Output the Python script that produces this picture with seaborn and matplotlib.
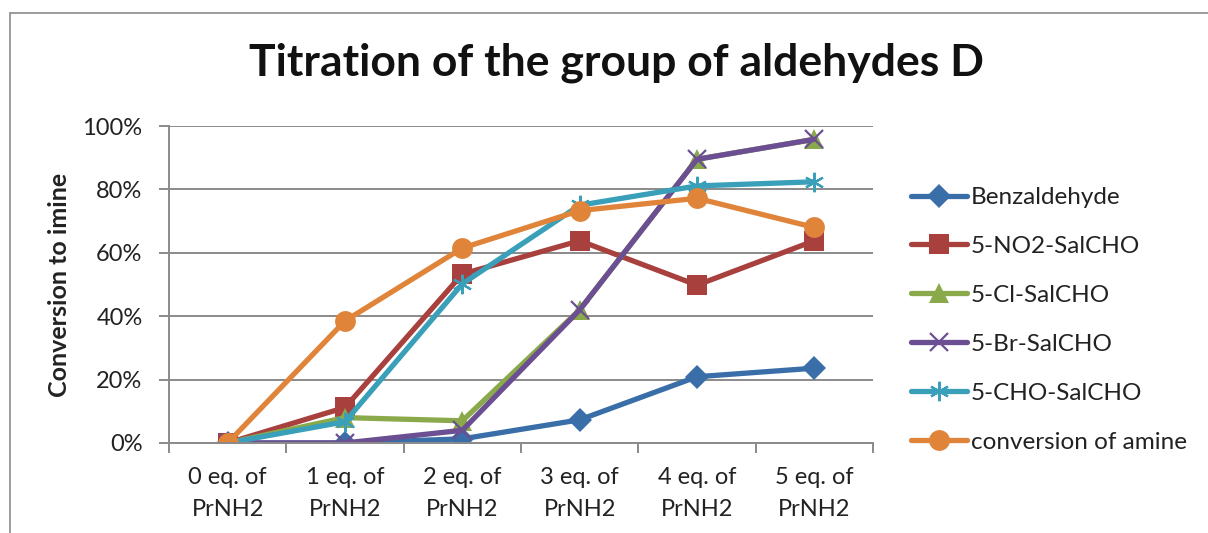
import matplotlib
matplotlib.use("Agg")
import matplotlib.pyplot as plt
import seaborn as sns
import pandas as pd
from matplotlib.patches import Rectangle
from matplotlib.ticker import FixedLocator, FuncFormatter

# Equivalents of propylamine added
categories = [f"{i} eq. of\nPrNH2" for i in range(6)]

# Conversion to imine, in percent
benzaldehyde = [0, 0, 1.3, 7.3, 20.9, 23.6]
no2_salcho = [0, 11.2, 53.3, 63.8, 49.8, 63.8]
cl_salcho = [0, 8.0, 7.0, 42.0, 89.5, 95.8]
br_salcho = [0, 0, 4.0, 42.0, 89.5, 95.8]
cho_salcho = [0, 6.7, 50.2, 75.0, 81.1, 82.4]
amine_conversion = [0, 38.5, 61.5, 73.3, 77.2, 68.0]

series_names = ["Benzaldehyde", "5-NO2-SalCHO", "5-Cl-SalCHO",
                "5-Br-SalCHO", "5-CHO-SalCHO", "conversion of amine"]
series_values = [benzaldehyde, no2_salcho, cl_salcho,
                 br_salcho, cho_salcho, amine_conversion]

colors = ["#3A6EA8", "#A8413E", "#89A94A", "#6B4F92", "#3A9FB8", "#E0843A"]
markers = ["D", "s", "^", "x", (6, 2, 0), "o"]
msizes = [12, 14, 14, 13, 14, 15]
medge = [0, 0, 0, 1.6, 1.6, 0]

rows = []
for name, vals in zip(series_names, series_values):
    for cat, v in zip(categories, vals):
        rows.append({"eq": cat, "conversion": v, "series": name})
df = pd.DataFrame(rows)

sns.set_theme(style="white")
plt.rcParams["font.family"] = ["Lato", "DejaVu Sans"]

fig = plt.figure(figsize=(12.08, 5.33), dpi=100)
ax = fig.add_axes([0.1399, 0.1689, 0.5828, 0.5947])

for name, col, mk, ms, mew in zip(series_names, colors, markers, msizes, medge):
    sub = df[df["series"] == name]
    sns.lineplot(data=sub, x="eq", y="conversion", ax=ax, color=col,
                 linewidth=3.8, marker=mk, markersize=ms, label=name,
                 sort=False, markeredgewidth=mew, markeredgecolor=col)

ax.set_xlim(-0.5, 5.5)
ax.set_ylim(0, 100)
ax.set_yticks([0, 20, 40, 60, 80, 100])
ax.yaxis.set_major_formatter(FuncFormatter(lambda v, p: f"{int(v)}%"))
ax.yaxis.grid(True, color="#8A8A8A", linewidth=1.4)
ax.set_axisbelow(True)

# category labels at centers, tick marks between categories
ax.set_xticks(range(6))
ax.set_xticklabels(categories, fontsize=17, color="#222222", linespacing=1.7)
ax.tick_params(axis="x", which="major", length=0, pad=17)
ax.xaxis.set_minor_locator(FixedLocator([i - 0.5 for i in range(7)]))
ax.tick_params(axis="x", which="minor", length=7, width=1.4, color="#8A8A8A",
               direction="out", bottom=True)
ax.tick_params(axis="y", length=7, width=1.4, color="#8A8A8A", direction="out",
               labelsize=17, labelcolor="#222222", pad=12, left=True)

for side in ["top", "right"]:
    ax.spines[side].set_visible(False)
for side in ["left", "bottom"]:
    ax.spines[side].set_color("#8A8A8A")
    ax.spines[side].set_linewidth(1.4)

ax.set_xlabel("")
ax.set_ylabel("Conversion to imine", fontsize=18, fontweight="bold",
              color="#222222", labelpad=8)

leg = ax.legend(loc="upper left", bbox_to_anchor=(911 / 1208, 1 - 187 / 533),
                bbox_transform=fig.transFigure, frameon=False, fontsize=17.5,
                handlelength=2.3, handletextpad=0.17, labelspacing=1.15,
                borderaxespad=0, borderpad=0)
for t in leg.get_texts():
    t.set_color("#222222")

fig.text(616 / 1208, 1 - 63 / 533, "Titration of the group of aldehydes D",
         ha="center", va="center", fontsize=32, fontweight="bold",
         color="#111111")

# chart frame
fig.patches.append(Rectangle((10 / 1208, -0.2), 1.2, 1.2 - 13 / 533,
                             transform=fig.transFigure, fill=False,
                             edgecolor="#8A8A8A", linewidth=1.2))

fig.savefig("out.png", dpi=100)
